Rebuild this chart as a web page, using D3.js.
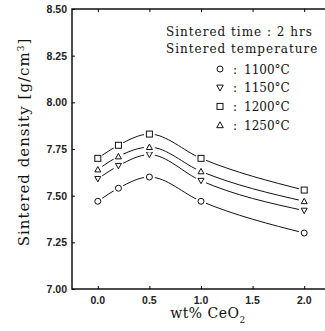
<!DOCTYPE html>
<html lang="en">
<head>
<meta charset="UTF-8">
<title>Sintered density vs CeO2</title>
<script src="https://cdnjs.cloudflare.com/ajax/libs/d3/7.8.5/d3.min.js"></script>
<style>
    * { margin: 0; padding: 0; }
    body { background: #fff; width: 325px; height: 331px; overflow: hidden; }
    svg { display: block; }
    .tick-label { font-family: 'Liberation Sans', Arial, sans-serif; font-size: 10.5px; font-weight: bold; fill: #222; }
    .serif { font-family: 'DejaVu Serif', 'Liberation Serif', serif; fill: #111; }
    .legend-text { font-size: 12px; letter-spacing: 1px; }
</style>
</head>
<body>
<div id="chart"></div>
<script>
    // data
    const ceo2 = [0.0, 0.2, 0.5, 1.0, 2.0];
    const temps = ['1100°C', '1150°C', '1200°C', '1250°C'];
    const markers = ['circle', 'triDown', 'square', 'triUp'];
    const dens1100 = [7.47, 7.54, 7.60, 7.47, 7.30];
    const dens1150 = [7.59, 7.66, 7.72, 7.58, 7.42];
    const dens1200 = [7.70, 7.77, 7.83, 7.70, 7.53];
    const dens1250 = [7.64, 7.71, 7.76, 7.63, 7.47];
    const seriesValues = [dens1100, dens1150, dens1200, dens1250];
    const xTicks = [0.0, 0.5, 1.0, 1.5, 2.0];
    const yTicks = [7.00, 7.25, 7.50, 7.75, 8.00, 8.25, 8.50];

    const W = 325, H = 331;
    const margin = {top: 9, right: -5, bottom: 42, left: 72};

    const svg = d3.select('#chart').append('svg')
        .attr('width', W).attr('height', H);

    const x = d3.scaleLinear().domain([-0.25, 2.25]).range([margin.left, W - margin.right]);
    const y = d3.scaleLinear().domain([7.0, 8.5]).range([H - margin.bottom, margin.top]);

    // frame
    svg.append('rect')
        .attr('x', x(-0.25)).attr('y', y(8.5))
        .attr('width', x(2.25) - x(-0.25)).attr('height', y(7.0) - y(8.5))
        .attr('fill', 'none').attr('stroke', '#111').attr('stroke-width', 1.5);

    // ticks (inward)
    svg.append('g').attr('transform', `translate(0,${y(7.0)})`)
        .call(d3.axisTop(x).tickValues(xTicks).tickSize(3).tickFormat(''))
        .call(g => g.select('.domain').remove());
    svg.append('g').attr('transform', `translate(0,${y(8.5)})`)
        .call(d3.axisBottom(x).tickValues(xTicks).tickSize(3).tickFormat(''))
        .call(g => g.select('.domain').remove());
    svg.append('g').attr('transform', `translate(${x(-0.25)},0)`)
        .call(d3.axisRight(y).tickValues(yTicks).tickSize(3).tickFormat(''))
        .call(g => g.select('.domain').remove());

    // tick labels
    svg.append('g').selectAll('text').data(xTicks).join('text')
        .attr('class', 'tick-label')
        .attr('x', d => x(d)).attr('y', y(7.0) + 15)
        .attr('text-anchor', 'middle')
        .text(d => d.toFixed(1));
    svg.append('g').selectAll('text').data(yTicks).join('text')
        .attr('class', 'tick-label')
        .attr('x', x(-0.25) - 5).attr('y', d => y(d) + 4)
        .attr('text-anchor', 'end')
        .text(d => d.toFixed(2));

    // axis titles
    const yt = svg.append('text').attr('class', 'serif')
        .attr('transform', `translate(29,${(y(7.0) + y(8.5)) / 2 - 7}) rotate(-90)`)
        .attr('text-anchor', 'middle')
        .style('font-size', '15px').style('letter-spacing', '1px');
    yt.append('tspan').text('Sintered density [g/cm');
    yt.append('tspan').attr('baseline-shift', 'super').style('font-size', '9px').text('3');
    yt.append('tspan').text(']');

    const xt = svg.append('text').attr('class', 'serif')
        .attr('x', 208).attr('y', 318).attr('text-anchor', 'middle')
        .style('font-size', '14px').style('letter-spacing', '0.5px');
    xt.append('tspan').text('wt% CeO');
    xt.append('tspan').attr('baseline-shift', 'sub').style('font-size', '9px').text('2');

    // curves
    const line = d3.line().x(d => x(d[0])).y(d => y(d[1])).curve(d3.curveMonotoneX);
    seriesValues.forEach(vals => {
        svg.append('path')
            .datum(ceo2.map((c, i) => [c, vals[i]]))
            .attr('d', line)
            .attr('fill', 'none').attr('stroke', '#111').attr('stroke-width', 1);
    });

    function drawMarker(g, type, cx, cy, s) {
        // white halo to break the line around the marker
        g.append('circle').attr('cx', cx).attr('cy', cy).attr('r', s + 2.5).attr('fill', '#fff');
        if (type === 'circle') {
            g.append('circle').attr('cx', cx).attr('cy', cy).attr('r', s)
                .attr('fill', '#fff').attr('stroke', '#111').attr('stroke-width', 1);
        } else if (type === 'square') {
            g.append('rect').attr('x', cx - s).attr('y', cy - s).attr('width', 2 * s).attr('height', 2 * s)
                .attr('fill', '#fff').attr('stroke', '#111').attr('stroke-width', 1);
        } else {
            const dir = type === 'triUp' ? -1 : 1;
            const pts = [[cx, cy + dir * s], [cx - s, cy - dir * s * 0.8], [cx + s, cy - dir * s * 0.8]];
            g.append('polygon').attr('points', pts.map(p => p.join(',')).join(' '))
                .attr('fill', '#fff').attr('stroke', '#111').attr('stroke-width', 1);
        }
    }

    const mg = svg.append('g');
    seriesValues.forEach((vals, si) => {
        vals.forEach((v, i) => drawMarker(mg, markers[si], x(ceo2[i]), y(v), 3));
    });

    // legend
    const lg = svg.append('g');
    lg.append('text').attr('class', 'serif legend-text').attr('x', 166).attr('y', 36)
        .text('Sintered time : 2 hrs');
    lg.append('text').attr('class', 'serif legend-text').attr('x', 166).attr('y', 53)
        .text('Sintered temperature');
    temps.forEach((t, si) => {
        const cy = 69 + si * 18.7;
        const g = lg.append('g');
        if (markers[si] === 'circle') {
            g.append('circle').attr('cx', 220).attr('cy', cy).attr('r', 3)
                .attr('fill', '#fff').attr('stroke', '#111');
        } else if (markers[si] === 'square') {
            g.append('rect').attr('x', 217).attr('y', cy - 3).attr('width', 6).attr('height', 6)
                .attr('fill', '#fff').attr('stroke', '#111');
        } else {
            const dir = markers[si] === 'triUp' ? -1 : 1;
            g.append('polygon')
                .attr('points', [[220, cy + dir * 3.3], [216.7, cy - dir * 2.6], [223.3, cy - dir * 2.6]].map(p => p.join(',')).join(' '))
                .attr('fill', '#fff').attr('stroke', '#111');
        }
        g.append('text').attr('class', 'serif legend-text').attr('x', 233).attr('y', cy + 4.5)
            .text(':');
        g.append('text').attr('class', 'serif legend-text').attr('x', 244).attr('y', cy + 4.5)
            .style('letter-spacing', '0px').text(t);
    });
</script>
</body>
</html>
